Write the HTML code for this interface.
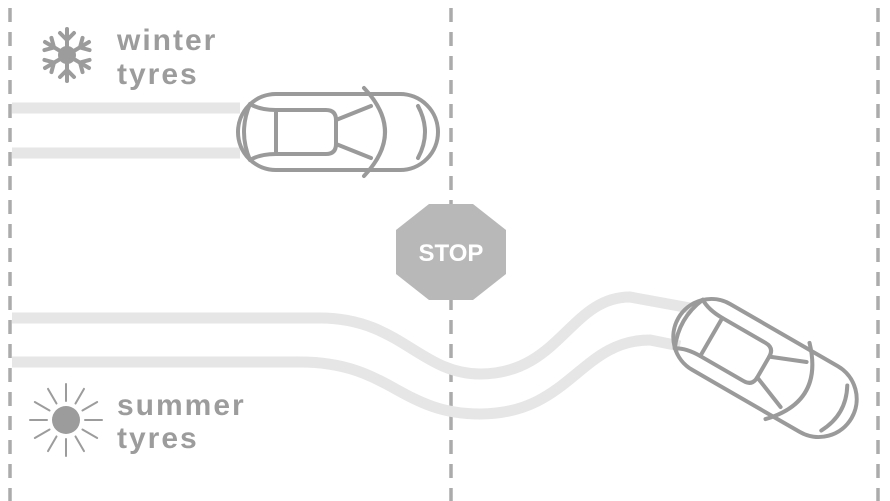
<!DOCTYPE html>
<html><head><style>
body{margin:0;width:890px;height:501px;background:#fff;overflow:hidden}
svg{display:block}
text{font-family:"Liberation Sans",sans-serif;font-weight:bold;fill:#9c9c9c}
</style></head><body>
<svg width="890" height="501" viewBox="0 0 890 501">
<defs>
<g id="car" fill="none" stroke="#9a9a9a" stroke-width="4" stroke-linecap="round" stroke-linejoin="round">
<rect x="2" y="2" width="200" height="76" rx="38"/>
<path d="M14 12 Q2 40 14 68"/>
<path d="M14 12 Q24 18 40 18 L40 62 Q24 62 14 68"/>
<path d="M40 18 L90 18 Q100 18 100 28 L100 52 Q100 62 90 62 L40 62"/>
<path d="M100 28 L135 14 M100 52 L135 66"/>
<path d="M128 -4 Q170 40 128 84"/>
<path d="M182 14 Q196 40 182 66"/>
</g>
</defs>
<g stroke="#ababab" stroke-width="3.5" stroke-dasharray="14 10">
<line x1="10" y1="8" x2="10" y2="501"/>
<line x1="451" y1="8" x2="451" y2="501"/>
<line x1="878" y1="8" x2="878" y2="501"/>
</g>
<g stroke="#e6e6e6" stroke-width="11" fill="none">
<line x1="12" y1="108" x2="240" y2="108"/>
<line x1="12" y1="153" x2="240" y2="153"/>
<path d="M12 318 L320 318 C400 318 420 374 480 374 C560 374 570 297 630 297 L690 308"/>
<path d="M12 362 L300 362 C390 362 400 414 480 414 C570 414 580 340 650 340 L680 346"/>
</g>
<use href="#car" x="236" y="92"/>
<use href="#car" transform="translate(765,368) rotate(30) translate(-102,-40)"/>
<polygon points="429,204 473,204 506,230 506,274 473,300 429,300 396,274 396,230" fill="#b8b8b8"/>
<text x="451" y="261" text-anchor="middle" font-size="24" style="fill:#fff">STOP</text>
<text x="117" y="50" font-size="30" letter-spacing="2">winter</text>
<text x="117" y="84" font-size="30" letter-spacing="2">tyres</text>
<text x="117" y="415" font-size="30" letter-spacing="2">summer</text>
<text x="117" y="448" font-size="30" letter-spacing="2">tyres</text>
<g stroke="#9c9c9c" stroke-width="4" stroke-linecap="round" transform="translate(67,55)">
<line x1="0" y1="-26" x2="0" y2="26"/>
<line x1="-22" y1="-13" x2="22" y2="13"/>
<line x1="-22" y1="13" x2="22" y2="-13"/>
<g id="br"><path d="M-7 -22 L0 -15 L7 -22" fill="none"/></g>
<use href="#br" transform="rotate(60)"/><use href="#br" transform="rotate(120)"/><use href="#br" transform="rotate(180)"/><use href="#br" transform="rotate(240)"/><use href="#br" transform="rotate(300)"/>
<circle r="7" fill="#9c9c9c"/>
</g>
<g transform="translate(66,420)" stroke="#9c9c9c" stroke-width="2" stroke-linecap="round">
<circle r="14" fill="#9c9c9c" stroke="none"/>
<g id="ray"><line x1="0" y1="-19" x2="0" y2="-36"/></g>
<use href="#ray" transform="rotate(30)"/><use href="#ray" transform="rotate(60)"/><use href="#ray" transform="rotate(90)"/><use href="#ray" transform="rotate(120)"/><use href="#ray" transform="rotate(150)"/><use href="#ray" transform="rotate(180)"/><use href="#ray" transform="rotate(210)"/><use href="#ray" transform="rotate(240)"/><use href="#ray" transform="rotate(270)"/><use href="#ray" transform="rotate(300)"/><use href="#ray" transform="rotate(330)"/>
</g>
</svg>
</body></html>
